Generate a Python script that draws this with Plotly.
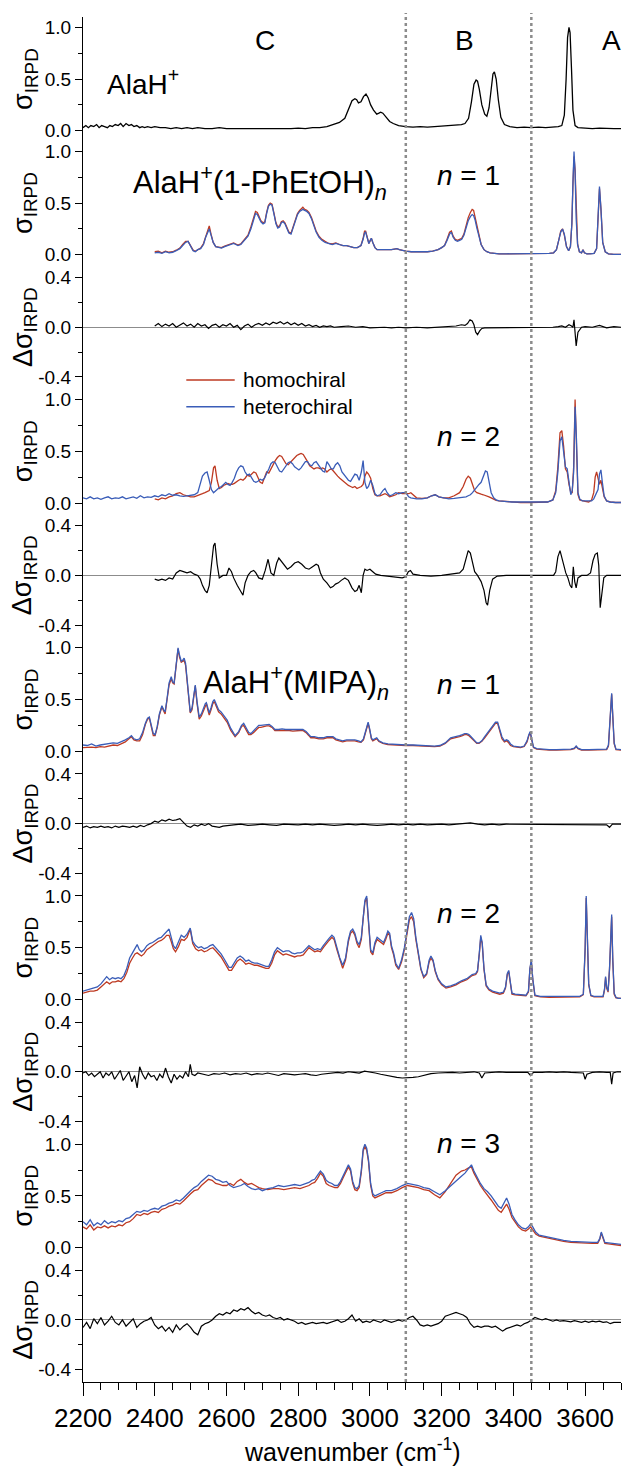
import plotly.graph_objects as go
from plotly.subplots import make_subplots

RED = "#BE3A22"
BLUE = "#3A5DB8"
FONT = "Liberation Sans, Arial, sans-serif"

# ---------------- AlaH+ (bare) ----------------
ala_x = [2200, 2208, 2215, 2222, 2230, 2238, 2245, 2252, 2260, 2268,
         2275, 2282, 2290, 2298, 2305, 2312, 2320, 2328, 2335, 2342,
         2350, 2358, 2365, 2372, 2380, 2390, 2400, 2415, 2430, 2445,
         2460, 2475, 2490, 2505, 2520, 2540, 2560, 2580, 2600, 2620,
         2640, 2660, 2680, 2700, 2720, 2740, 2760, 2780, 2800, 2820,
         2840, 2860, 2880, 2900, 2915, 2930, 2940, 2950, 2958, 2963,
         2968, 2975, 2982, 2989, 2995, 3002, 3010, 3019, 3025, 3030,
         3036, 3045, 3055, 3065, 3080, 3100, 3120, 3140, 3160, 3180,
         3200, 3220, 3240, 3255, 3265, 3275, 3283, 3290, 3296, 3300,
         3305, 3312, 3320, 3326, 3332, 3338, 3343, 3347, 3352, 3358,
         3365, 3375, 3390, 3410, 3430, 3450, 3470, 3490, 3510, 3525,
         3535, 3542, 3547, 3551, 3555, 3558, 3562, 3566, 3572, 3580,
         3600, 3620, 3640, 3660, 3680, 3700]
ala_y = [.03, .05, .03, .05, .04, .06, .03, .05, .04, .03,
         .05, .04, .06, .05, .07, .04, .07, .05, .06, .04,
         .05, .03, .04, .03, .04, .03, .04, .03, .03, .02,
         .03, .02, .03, .02, .03, .02, .02, .03, .02, .02,
         .015, .02, .015, .02, .02, .015, .02, .02, .025, .02,
         .03, .03, .04, .06, .08, .12, .20, .29, .31, .30,
         .27, .28, .33, .355, .32, .25, .20, .16, .17, .18,
         .17, .13, .09, .07, .05, .04, .035, .04, .035, .04,
         .045, .05, .05, .06, .07, .12, .28, .45, .49, .48,
         .40, .25, .16, .14, .22, .42, .55, .57, .50, .30,
         .13, .06, .04, .03, .035, .03, .035, .03, .035, .04,
         .05, .15, .50, .90, 1.0, .95, .60, .20, .05, .03,
         .025, .02, .025, .02, .02, .02]

# ---------------- AlaH+(1-PhEtOH), n = 1 ----------------
phe1_x = [2400, 2410, 2420, 2430, 2440, 2450, 2460, 2470, 2478, 2486,
          2493, 2500, 2507, 2513, 2520, 2528, 2536, 2542, 2547, 2552,
          2557, 2563, 2570, 2578, 2586, 2595, 2604, 2612, 2620, 2626,
          2632, 2640, 2650, 2660, 2668, 2675, 2681, 2686, 2691, 2696,
          2702, 2707, 2712, 2717, 2722, 2727, 2732, 2738, 2743, 2748,
          2753, 2758, 2763, 2768, 2774, 2780, 2786, 2792, 2798, 2804,
          2809, 2813, 2818, 2824, 2830, 2837, 2843, 2850, 2858, 2866,
          2875, 2885, 2895, 2905, 2915, 2925, 2935, 2945, 2955, 2965,
          2975, 2981, 2985, 2988, 2992, 2997, 3001, 3004, 3008, 3014,
          3020, 3030, 3040, 3050, 3060, 3068, 3075, 3082, 3090, 3100,
          3115, 3130, 3145, 3160, 3175, 3190, 3200, 3208, 3215, 3222,
          3227, 3232, 3238, 3244, 3250, 3256, 3262, 3268, 3274, 3280,
          3285, 3289, 3293, 3298, 3303, 3310, 3318, 3326, 3335, 3345,
          3360, 3380, 3400, 3420, 3440, 3460, 3480, 3500, 3512, 3520,
          3527, 3532, 3537, 3542, 3548, 3554, 3559, 3563, 3566, 3569,
          3572, 3575, 3579, 3584, 3590, 3594, 3598, 3605, 3615, 3625,
          3632, 3636, 3640, 3644, 3649, 3656, 3665, 3680, 3700]
phe1_blue = [.02, .025, .015, .03, .02, .025, .04, .06, .09, .12,
             .13, .08, .04, .03, .05, .06, .10, .17, .22, .25,
             .19, .12, .08, .07, .065, .08, .09, .10, .11, .10,
             .09, .10, .14, .18, .25, .34, .40, .39, .36, .32,
             .30, .31, .40, .47, .49, .48, .40, .30, .26, .27,
             .31, .32, .30, .25, .21, .20, .26, .34, .39, .42,
             .43, .44, .43, .42, .40, .35, .29, .22, .17, .14,
             .12, .11, .10, .11, .10, .09, .09, .08, .07, .07,
             .09, .15, .21, .22, .17, .11, .14, .16, .12, .07,
             .05, .05, .045, .05, .05, .055, .06, .05, .04, .035,
             .03, .03, .025, .03, .035, .05, .07, .09, .14, .20,
             .22, .17, .14, .13, .14, .15, .19, .26, .33, .37,
             .39, .38, .34, .26, .19, .10, .05, .03, .02, .015,
             .01, .01, .01, .01, .01, .01, .01, .015, .02, .05,
             .15, .22, .25, .20, .08, .04, .08, .30, .70, 1.0,
             .80, .35, .10, .03, .02, .05, .02, .01, .01, .015,
             .06, .30, .66, .45, .12, .03, .01, .005, .005]
phe1_red = [.03, .035, .02, .035, .025, .03, .045, .065, .10, .13,
            .13, .08, .045, .035, .05, .065, .11, .18, .24, .28,
            .20, .12, .08, .075, .07, .085, .095, .105, .115, .105,
            .095, .105, .15, .19, .27, .36, .42, .41, .37, .33,
            .31, .32, .41, .48, .50, .49, .41, .31, .27, .28,
            .32, .33, .31, .26, .22, .21, .27, .35, .40, .43,
            .45, .46, .44, .43, .41, .36, .30, .23, .18, .15,
            .13, .11, .105, .115, .10, .09, .09, .08, .07, .07,
            .09, .16, .23, .23, .17, .11, .14, .16, .12, .07,
            .05, .05, .045, .05, .05, .055, .06, .05, .04, .035,
            .03, .03, .025, .03, .035, .05, .07, .09, .15, .22,
            .23, .18, .15, .14, .15, .16, .20, .28, .36, .41,
            .44, .43, .37, .27, .19, .10, .05, .03, .02, .015,
            .01, .01, .01, .01, .01, .01, .01, .015, .02, .05,
            .15, .23, .25, .19, .08, .04, .08, .30, .68, .95,
            .82, .38, .10, .03, .02, .05, .02, .01, .01, .015,
            .06, .30, .64, .45, .12, .03, .01, .005, .005]

dphe1_x = [2400, 2410, 2420, 2430, 2440, 2450, 2460, 2470, 2480, 2490,
           2500, 2510, 2520, 2530, 2540, 2550, 2560, 2570, 2580, 2590,
           2600, 2610, 2620, 2630, 2640, 2650, 2660, 2670, 2680, 2690,
           2700, 2710, 2720, 2730, 2740, 2750, 2760, 2770, 2780, 2790,
           2800, 2810, 2820, 2830, 2840, 2850, 2860, 2870, 2880, 2890,
           2900, 2920, 2940, 2960, 2980, 3000, 3020, 3040, 3060, 3080,
           3100, 3130, 3160, 3190, 3220, 3240, 3255, 3265, 3272, 3279,
           3285, 3290, 3295, 3300, 3306, 3312, 3320, 3335, 3360, 3400,
           3440, 3480, 3510, 3525, 3535, 3545, 3555, 3562, 3566, 3569,
           3572, 3575, 3580, 3590, 3600, 3620, 3640, 3660, 3680, 3700]
dphe1_y = [.01, .03, .005, .025, .01, .03, .0, .02, .035, .01,
           .025, .0, .03, .01, .02, -.01, .015, .025, .0, .02,
           .01, .03, .0, .015, -.02, .01, .025, .0, .02, .03,
           .015, .035, .02, .04, .03, .045, .025, .04, .02, .035,
           .015, .03, .01, .02, .005, .015, .0, .01, .005, .01,
           .0, .005, .01, .0, .005, -.005, .0, .0, -.005, .0,
           -.005, .0, -.005, .0, .005, .01, .02, .015, .03, .06,
           .05, .02, -.04, -.06, -.03, -.01, -.005, -.005, .0, .0,
           -.005, .0, .0, .005, .01, .0, .02, .01, .0, .06,
           -.05, -.15, -.04, .0, .005, .0, .015, -.005, .005, .0]

# ---------------- AlaH+(1-PhEtOH), n = 2 ----------------
phe2_x = [2200, 2210, 2220, 2230, 2240, 2250, 2260, 2270, 2280, 2290,
          2300, 2310, 2320, 2330, 2340, 2350, 2360, 2370, 2380, 2390,
          2400, 2410, 2420, 2430, 2440, 2450, 2460, 2470, 2480, 2490,
          2500, 2510, 2520, 2527, 2533, 2540, 2546, 2552, 2558, 2564,
          2568, 2574, 2580, 2586, 2592, 2598, 2604, 2610, 2616, 2622,
          2628, 2634, 2640, 2646, 2652, 2658, 2664, 2670, 2676, 2682,
          2688, 2694, 2700, 2706, 2712, 2718, 2724, 2730, 2736, 2742,
          2748, 2754, 2760, 2766, 2772, 2778, 2784, 2790, 2796, 2802,
          2808, 2814, 2820, 2826, 2832, 2838, 2844, 2850, 2856, 2862,
          2868, 2874, 2880, 2886, 2892, 2898, 2904, 2910, 2916, 2922,
          2928, 2934, 2940, 2946, 2952, 2958, 2964, 2970, 2976, 2981,
          2986, 2991, 2996, 3002, 3008, 3014, 3020, 3028, 3036, 3042,
          3048, 3055, 3063, 3072, 3080, 3090, 3100, 3108, 3114, 3120,
          3130, 3145, 3160, 3172, 3182, 3192, 3205, 3220, 3235, 3250,
          3260, 3268, 3274, 3280, 3286, 3292, 3298, 3304, 3310, 3316,
          3322, 3327, 3332, 3338, 3345, 3352, 3360, 3375, 3395, 3420,
          3445, 3470, 3495, 3510, 3518, 3524, 3530, 3535, 3540, 3545,
          3550, 3555, 3560, 3564, 3568, 3572, 3576, 3580, 3585, 3592,
          3600, 3610, 3618, 3624, 3628, 3632, 3636, 3640, 3644, 3648,
          3653, 3660, 3670, 3685, 3700]
phe2_blue = [.05, .04, .06, .04, .05, .035, .05, .06, .04, .05,
             .045, .06, .04, .05, .06, .045, .07, .05, .06, .055,
             .07, .06, .08, .07, .09, .075, .08, .07, .065, .07,
             .075, .08, .10, .18, .26, .29, .30, .22, .13, .10,
             .11, .13, .15, .16, .18, .20, .18, .17, .20, .24,
             .30, .34, .36, .35, .30, .27, .28, .24, .21, .20,
             .21, .23, .22, .24, .28, .33, .38, .40, .39, .35,
             .31, .30, .33, .37, .39, .40, .38, .35, .33, .32,
             .34, .37, .40, .40, .37, .36, .39, .40, .37, .33,
             .31, .30, .40, .37, .33, .33, .37, .39, .36, .30,
             .27, .24, .22, .21, .24, .28, .27, .22, .30, .41,
             .20, .14, .16, .22, .17, .09, .07, .08, .12, .14,
             .10, .07, .08, .10, .09, .10, .10, .06, .05, .045,
             .04, .04, .05, .07, .08, .06, .05, .04, .045, .05,
             .05, .06, .07, .08, .10, .13, .16, .18, .20, .26,
             .31, .30, .20, .10, .05, .03, .02, .015, .01, .01,
             .01, .005, .01, .03, .10, .30, .60, .64, .48, .35,
             .33, .20, .08, .12, .30, .93, .60, .10, .04, .02,
             .02, .015, .02, .04, .07, .10, .13, .28, .32, .20,
             .07, .02, .01, .005, .005]
phe2_red = [None, None, None, None, None, None, None, None, None, None,
            None, None, None, None, None, None, None, None, None, None,
            .04, .03, .05, .04, .06, .07, .09, .10, .08, .07,
            .06, .06, .07, .08, .09, .10, .11, .12, .20, .34,
            .36, .22, .14, .15, .17, .18, .19, .18, .18, .19,
            .21, .22, .23, .22, .24, .27, .26, .28, .30, .29,
            .24, .20, .19, .24, .30, .29, .33, .38, .41, .44,
            .46, .45, .41, .38, .37, .39, .42, .44, .46, .47,
            .48, .47, .44, .40, .36, .34, .33, .34, .34, .33,
            .34, .33, .30, .32, .33, .31, .28, .26, .24, .22,
            .21, .19, .17, .16, .15, .16, .14, .15, .16, .18,
            .26, .30, .28, .24, .14, .08, .07, .07, .08, .09,
            .08, .06, .07, .08, .10, .09, .09, .09, .10, .08,
            .05, .045, .05, .07, .08, .06, .05, .05, .07, .10,
            .16, .23, .26, .24, .17, .12, .10, .09, .085, .08,
            .075, .07, .06, .05, .035, .025, .02, .015, .01, .005,
            .005, .005, .01, .03, .12, .35, .68, .70, .55, .33,
            .30, .18, .10, .10, .35, 1.0, .55, .08, .03, .02,
            .015, .01, .03, .10, .25, .30, .22, .18, .22, .15,
            .06, .02, .01, .005, .005]

dphe2_x = [2400, 2410, 2420, 2430, 2440, 2450, 2460, 2470, 2480, 2490,
           2500, 2510, 2520, 2527, 2533, 2540, 2546, 2552, 2558, 2564,
           2568, 2574, 2580, 2590, 2600, 2607, 2614, 2620, 2630, 2640,
           2646, 2652, 2660, 2668, 2676, 2682, 2690, 2700, 2708, 2716,
           2724, 2732, 2740, 2746, 2754, 2762, 2770, 2780, 2790, 2800,
           2810, 2820, 2830, 2840, 2850, 2856, 2862, 2870, 2880, 2890,
           2897, 2904, 2912, 2920, 2930, 2940, 2950, 2958, 2964, 2970,
           2976, 2981, 2986, 2992, 3000, 3008, 3016, 3030, 3050, 3070,
           3090, 3100, 3107, 3113, 3120, 3140, 3170, 3200, 3230, 3250,
           3260, 3268, 3274, 3280, 3286, 3292, 3300, 3310, 3318, 3324,
           3328, 3334, 3342, 3355, 3380, 3420, 3460, 3500, 3512, 3518,
           3524, 3530, 3538, 3546, 3552, 3558, 3563, 3567, 3571, 3575,
           3580, 3590, 3605, 3615, 3622, 3628, 3634, 3638, 3642, 3646,
           3652, 3660, 3680, 3700]
dphe2_y = [-.03, -.04, -.03, -.04, -.02, -.03, .02, .04, .03, .02,
           .03, .01, .0, -.03, -.08, -.12, -.14, -.08, .08, .24,
           .26, .09, -.02, .0, .0, .06, .03, -.02, -.08, -.13,
           -.16, -.06, .0, .03, .04, .02, -.02, -.03, .04, .13,
           .02, .0, .10, .14, .11, .08, .05, .07, .10, .11,
           .09, .06, .05, .07, .09, .08, .02, -.03, -.06, -.10,
           -.09, -.07, -.06, -.04, -.02, -.04, -.10, -.13, -.12, -.08,
           -.14, .0, .05, .04, .05, .03, .01, .0, -.005, -.01,
           -.02, -.01, .03, .04, .01, .0, -.005, .0, .01, .02,
           .05, .15, .20, .18, .10, .03, .0, -.05, -.12, -.22,
           -.24, -.12, -.03, -.005, .0, .0, .0, .0, .0, .03,
           .15, .20, .10, .02, -.02, -.08, -.10, .07, -.05, -.10,
           -.02, .0, .0, .02, .12, .17, .18, .08, -.26, -.15,
           -.02, .0, .0, .0]

# ---------------- AlaH+(MIPA), n = 1 ----------------
mipa1_x = [2200, 2212, 2224, 2236, 2248, 2260, 2272, 2284, 2296, 2308,
           2318, 2328, 2335, 2342, 2350, 2358, 2366, 2374, 2380, 2385,
           2390, 2396, 2401, 2407, 2413, 2420, 2425, 2429, 2434, 2440,
           2446, 2450, 2454, 2458, 2462, 2465, 2469, 2474, 2478, 2482,
           2486, 2490, 2495, 2499, 2504, 2509, 2513, 2518, 2524, 2530,
           2536, 2541, 2544, 2548, 2552, 2557, 2562, 2566, 2571, 2578,
           2585, 2593, 2602, 2612, 2624, 2634, 2642, 2648, 2655, 2662,
           2668, 2676, 2684, 2690, 2696, 2704, 2712, 2719, 2727, 2735,
           2745, 2755, 2765, 2775, 2785, 2795, 2805, 2813, 2822, 2830,
           2835, 2845, 2858, 2870, 2880, 2890, 2897, 2905, 2915, 2924,
           2935, 2945, 2958, 2968, 2975, 2982, 2988, 2992, 2995, 2999,
           3004, 3008, 3013, 3019, 3025, 3036, 3050, 3065, 3080, 3100,
           3120, 3140, 3160, 3180, 3195, 3210, 3225, 3240, 3250, 3258,
           3264, 3270, 3276, 3282, 3290, 3298, 3304, 3312, 3320, 3328,
           3336, 3344, 3350, 3356, 3362, 3368, 3375, 3381, 3386, 3392,
           3400, 3410, 3420, 3430, 3438, 3443, 3447, 3451, 3456, 3465,
           3480, 3500, 3520, 3540, 3560, 3570, 3575, 3580, 3590, 3610,
           3630, 3650, 3660, 3665, 3668, 3671, 3674, 3677, 3681, 3686,
           3692, 3700]
mipa1_blue = [.06, .055, .07, .05, .06, .065, .07, .08, .075, .09,
              .11, .13, .15, .12, .11, .12, .18, .27, .32, .33,
              .26, .17, .16, .24, .36, .44, .40, .38, .50, .66,
              .72, .67, .66, .80, .95, 1.0, .93, .87, .88, .90,
              .85, .72, .52, .38, .42, .56, .64, .48, .33, .36,
              .42, .46, .47, .42, .37, .42, .48, .50, .46, .40,
              .38, .34, .30, .22, .15, .19, .25, .27, .22, .18,
              .17, .20, .23, .25, .25, .255, .26, .26, .24, .21,
              .21, .215, .21, .21, .205, .21, .21, .21, .19, .16,
              .14, .14, .13, .13, .14, .14, .14, .12, .11, .10,
              .11, .11, .11, .10, .09, .12, .20, .26, .28, .22,
              .13, .11, .12, .13, .10, .08, .07, .065, .06, .06,
              .06, .055, .05, .05, .055, .08, .13, .14, .15, .16,
              .17, .17, .16, .14, .11, .08, .08, .10, .14, .18,
              .22, .26, .28, .28, .22, .14, .10, .11, .10, .07,
              .05, .045, .04, .05, .10, .16, .19, .12, .04, .025,
              .02, .015, .015, .015, .02, .03, .05, .03, .015, .015,
              .015, .015, .02, .06, .25, .50, .56, .35, .08, .02,
              .015, .015]
mipa1_red = [.035, .04, .04, .035, .045, .04, .05, .06, .055, .07,
             .09, .12, .14, .11, .10, .10, .16, .26, .31, .32,
             .24, .15, .15, .23, .35, .43, .39, .36, .49, .64,
             .70, .66, .65, .79, .94, .99, .91, .86, .87, .88,
             .83, .70, .50, .37, .40, .55, .63, .46, .31, .34,
             .40, .44, .46, .40, .35, .40, .46, .48, .44, .38,
             .36, .32, .28, .20, .14, .18, .24, .25, .20, .16,
             .16, .18, .21, .23, .23, .24, .245, .245, .23, .20,
             .20, .205, .20, .20, .195, .20, .20, .20, .18, .15,
             .13, .13, .12, .12, .13, .13, .13, .11, .10, .09,
             .10, .10, .10, .09, .085, .11, .19, .25, .27, .21,
             .12, .10, .11, .12, .095, .075, .065, .06, .055, .055,
             .055, .05, .045, .045, .05, .075, .12, .13, .14, .15,
             .16, .16, .15, .13, .10, .075, .075, .095, .13, .17,
             .21, .25, .27, .27, .19, .12, .09, .10, .085, .055,
             .045, .04, .035, .045, .09, .15, .18, .11, .035, .02,
             .015, .01, .01, .01, .015, .025, .045, .025, .01, .01,
             .01, .01, .015, .05, .24, .49, .55, .34, .07, .015,
             .01, .01]

dmipa1_x = [2200, 2210, 2220, 2230, 2240, 2250, 2260, 2270, 2280, 2290,
            2300, 2310, 2320, 2330, 2340, 2350, 2360, 2370, 2380, 2390,
            2400, 2410, 2420, 2430, 2440, 2450, 2460, 2470, 2480, 2490,
            2500, 2510, 2520, 2530, 2540, 2550, 2560, 2570, 2580, 2590,
            2600, 2620, 2640, 2660, 2680, 2700, 2720, 2740, 2760, 2780,
            2800, 2820, 2840, 2860, 2880, 2900, 2920, 2940, 2960, 2980,
            3000, 3020, 3040, 3060, 3080, 3100, 3120, 3140, 3160, 3180,
            3200, 3220, 3240, 3260, 3280, 3300, 3320, 3340, 3360, 3380,
            3400, 3420, 3440, 3460, 3480, 3500, 3520, 3540, 3560, 3580,
            3600, 3620, 3640, 3660, 3668, 3672, 3676, 3685, 3700]
dmipa1_y = [-.03, -.02, -.035, -.025, -.03, -.02, -.03, -.025, -.035, -.02,
            -.03, -.02, -.025, -.03, -.02, -.03, -.015, -.025, -.01, .0,
            .02, .01, .03, .02, .035, .025, .03, .04, .01, -.02,
            -.03, -.01, -.02, -.005, -.015, .0, -.02, -.025, -.03, -.02,
            -.015, -.01, -.005, -.015, -.01, -.005, -.01, -.015, -.005, -.01,
            -.01, -.005, -.01, -.005, -.01, -.015, -.01, -.005, -.01, -.005,
            -.01, -.015, -.01, -.005, -.01, -.005, -.01, -.005, -.01, -.005,
            -.005, -.01, -.005, -.005, .005, -.005, -.01, -.005, -.01, -.005,
            -.005, -.01, -.005, -.005, -.01, -.005, -.005, -.005, -.01, -.005,
            -.005, -.005, -.01, -.01, -.03, -.02, -.005, -.005, -.005]

# ---------------- AlaH+(MIPA), n = 2 ----------------
mipa2_x = [2200, 2210, 2220, 2230, 2240, 2250, 2258, 2266, 2274, 2282,
           2290, 2298, 2306, 2314, 2322, 2330, 2338, 2345, 2351, 2357,
           2363, 2370, 2378, 2386, 2394, 2402, 2410, 2418, 2426, 2433,
           2440, 2446, 2452, 2458, 2466, 2474, 2482, 2490, 2499, 2506,
           2514, 2522, 2530, 2538, 2546, 2554, 2562, 2570, 2578, 2585,
           2592, 2600, 2607, 2614, 2622, 2630, 2638, 2646, 2654, 2662,
           2670, 2678, 2686, 2694, 2702, 2710, 2718, 2726, 2734, 2742,
           2750, 2758, 2766, 2774, 2782, 2790, 2798, 2806, 2814, 2822,
           2830, 2838, 2846, 2854, 2862, 2870, 2878, 2886, 2894, 2900,
           2908, 2916, 2924, 2932, 2940, 2946, 2952, 2958, 2964, 2970,
           2976, 2981, 2986, 2991, 2996, 3002, 3008, 3014, 3020, 3026,
           3032, 3038, 3044, 3050, 3055, 3060, 3066, 3072, 3080, 3088,
           3096, 3104, 3110, 3116, 3122, 3128, 3135, 3142, 3150, 3158,
           3165, 3170, 3176, 3182, 3190, 3200, 3212, 3225, 3240, 3255,
           3270, 3285, 3295, 3300, 3305, 3309, 3313, 3318, 3324, 3332,
           3342, 3352, 3362, 3372, 3378, 3383, 3387, 3391, 3396, 3405,
           3420, 3435, 3442, 3446, 3450, 3454, 3460, 3475, 3500, 3530,
           3560, 3585, 3595, 3600, 3603, 3606, 3610, 3616, 3625, 3640,
           3650, 3654, 3657, 3660, 3664, 3668, 3671, 3674, 3677, 3681,
           3686, 3692, 3700]
mipa2_blue = [.08, .09, .10, .11, .12, .15, .19, .22, .19, .21,
              .20, .21, .20, .23, .30, .40, .45, .50, .53, .48,
              .46, .48, .52, .54, .55, .57, .59, .60, .63, .66,
              .68, .60, .52, .49, .55, .62, .60, .63, .69, .56,
              .52, .50, .51, .49, .50, .52, .53, .50, .47, .44,
              .40, .35, .31, .31, .36, .40, .42, .40, .37, .38,
              .36, .35, .35, .34, .33, .32, .32, .38, .46, .50,
              .48, .46, .47, .47, .45, .44, .45, .45, .46, .49,
              .52, .50, .48, .49, .48, .52, .56, .59, .62, .60,
              .50, .40, .33, .40, .58, .66, .68, .64, .56, .53,
              .60, .80, .96, 1.0, .80, .48, .45, .55, .60, .58,
              .56, .55, .60, .66, .64, .52, .45, .35, .30, .38,
              .50, .68, .80, .84, .78, .60, .45, .30, .22, .25,
              .38, .42, .38, .28, .20, .15, .12, .13, .15, .18,
              .20, .24, .25, .28, .45, .62, .55, .30, .14, .10,
              .08, .07, .06, .07, .12, .25, .28, .18, .06, .05,
              .045, .04, .08, .30, .38, .20, .04, .03, .03, .03,
              .025, .03, .05, .50, 1.0, .70, .15, .04, .03, .03,
              .03, .10, .22, .12, .08, .30, .70, .82, .40, .06,
              .02, .01, .01]
mipa2_red = [.06, .07, .08, .08, .09, .12, .15, .17, .15, .17,
             .17, .18, .17, .20, .26, .35, .40, .44, .45, .43,
             .42, .44, .48, .50, .52, .54, .56, .57, .59, .62,
             .62, .56, .49, .46, .51, .58, .57, .60, .68, .54,
             .49, .47, .48, .46, .47, .49, .50, .47, .44, .41,
             .37, .32, .28, .28, .33, .37, .39, .37, .34, .35,
             .34, .33, .33, .32, .31, .30, .30, .35, .43, .47,
             .45, .43, .44, .43, .42, .41, .42, .42, .43, .47,
             .50, .48, .46, .47, .46, .50, .54, .57, .60, .58,
             .48, .38, .30, .38, .56, .64, .66, .62, .54, .50,
             .58, .78, .94, .98, .78, .46, .43, .53, .58, .56,
             .54, .53, .58, .64, .62, .50, .43, .33, .29, .36,
             .48, .65, .77, .80, .75, .58, .43, .29, .21, .24,
             .36, .40, .37, .27, .19, .14, .11, .12, .14, .17,
             .19, .23, .24, .27, .44, .60, .54, .29, .13, .09,
             .07, .06, .05, .06, .11, .24, .27, .17, .05, .045,
             .04, .035, .07, .29, .37, .19, .035, .025, .02, .02,
             .02, .025, .045, .48, .98, .68, .14, .035, .025, .025,
             .025, .09, .21, .11, .07, .29, .68, .80, .38, .05,
             .015, .01, .01]

dmipa2_x = [2200, 2208, 2216, 2224, 2232, 2240, 2248, 2256, 2264, 2272,
            2280, 2288, 2296, 2304, 2312, 2320, 2328, 2336, 2344, 2351,
            2358, 2366, 2374, 2382, 2390, 2398, 2406, 2414, 2422, 2430,
            2438, 2446, 2454, 2462, 2470, 2478, 2486, 2494, 2499, 2504,
            2512, 2520, 2535, 2550, 2565, 2580, 2595, 2610, 2625, 2640,
            2655, 2670, 2685, 2700, 2715, 2730, 2745, 2760, 2775, 2790,
            2805, 2820, 2835, 2850, 2865, 2880, 2895, 2910, 2925, 2940,
            2955, 2970, 2985, 3000, 3015, 3030, 3045, 3060, 3075, 3090,
            3105, 3120, 3135, 3150, 3170, 3190, 3210, 3230, 3250, 3270,
            3290, 3305, 3312, 3320, 3340, 3360, 3380, 3400, 3420, 3440,
            3448, 3456, 3480, 3500, 3520, 3540, 3560, 3580, 3595, 3600,
            3605, 3620, 3640, 3660, 3670, 3674, 3678, 3690, 3700]
dmipa2_y = [-.01, .0, -.03, -.01, -.04, -.02, .0, -.05, -.01, -.03,
            .0, -.06, -.02, .01, -.07, -.03, .0, -.08, -.03, -.13,
            .04, -.02, -.06, -.01, -.04, -.03, -.07, -.02, -.05, .03,
            -.04, -.09, -.02, -.06, -.03, -.05, .0, -.04, .06, -.02,
            -.03, -.01, -.02, -.03, -.015, -.02, -.01, -.025, -.015, -.02,
            -.01, -.025, -.015, -.02, -.01, -.02, -.03, -.015, -.02, -.025,
            -.02, -.015, -.025, -.03, -.02, -.015, -.01, -.005, -.01, .0,
            -.005, -.01, .005, .0, -.01, -.02, -.03, -.04, -.045, -.05,
            -.05, -.045, -.04, -.03, -.015, -.01, -.005, -.005, -.01, -.005,
            .0, -.01, -.05, -.01, -.005, .0, -.005, -.005, -.01, -.005,
            -.03, -.005, -.005, .0, -.005, .0, -.005, -.005, -.01, -.06,
            -.02, -.005, .0, -.005, -.005, -.10, -.01, .0, .0]

# ---------------- AlaH+(MIPA), n = 3 ----------------
mipa3_x = [2200, 2210, 2220, 2230, 2240, 2250, 2260, 2270, 2280, 2290,
           2300, 2310, 2320, 2330, 2340, 2350, 2360, 2370, 2380, 2390,
           2400, 2410, 2420, 2430, 2440, 2450, 2460, 2470, 2480, 2490,
           2500, 2510, 2520, 2530, 2540, 2550, 2560, 2570, 2580, 2590,
           2600, 2610, 2620, 2630, 2640, 2650, 2660, 2670, 2680, 2690,
           2700, 2715, 2730, 2745, 2760, 2775, 2790, 2805, 2820, 2830,
           2838, 2846, 2854, 2862, 2870, 2878, 2886, 2894, 2902, 2910,
           2918, 2926, 2934, 2940, 2946, 2952, 2958, 2964, 2970, 2976,
           2981, 2986, 2991, 2996, 3002, 3008, 3014, 3022, 3032, 3045,
           3060, 3075, 3090, 3105, 3120, 3135, 3150, 3165, 3180, 3195,
           3210, 3225, 3240, 3255, 3265, 3275, 3283, 3290, 3298, 3308,
           3318, 3328, 3338, 3348, 3358, 3366, 3374, 3381, 3388, 3396,
           3404, 3414, 3424, 3434, 3442, 3448, 3454, 3462, 3472, 3485,
           3500, 3520, 3540, 3560, 3580, 3600, 3620, 3635, 3641, 3645,
           3649, 3655, 3665, 3680, 3700]
mipa3_blue = [.25, .22, .27, .21, .24, .22, .26, .23, .25, .24,
              .26, .25, .28, .29, .32, .35, .34, .36, .35, .37,
              .38, .37, .40, .41, .43, .44, .46, .45, .48, .52,
              .55, .58, .60, .64, .67, .70, .69, .66, .65, .63,
              .64, .60, .58, .59, .60, .62, .59, .57, .56, .57,
              .55, .57, .58, .60, .59, .60, .61, .60, .62, .63,
              .65, .66, .70, .74, .71, .65, .63, .62, .60, .60,
              .64, .70, .76, .80, .76, .64, .58, .57, .60, .75,
              .95, 1.0, .96, .85, .62, .52, .50, .51, .53, .55,
              .55, .57, .60, .62, .61, .60, .58, .57, .54, .51,
              .55, .60, .65, .69, .72, .76, .80, .74, .68, .62,
              .57, .54, .50, .45, .40, .38, .44, .48, .42, .32,
              .27, .22, .19, .18, .20, .23, .20, .15, .12, .11,
              .10, .08, .07, .06, .055, .05, .05, .05, .09, .15,
              .10, .05, .045, .04, .03]
mipa3_red = [.20, .18, .22, .17, .20, .19, .21, .19, .21, .20,
             .22, .21, .24, .25, .28, .32, .31, .33, .32, .34,
             .35, .34, .37, .38, .40, .41, .43, .42, .45, .49,
             .52, .55, .56, .60, .63, .66, .65, .62, .61, .60,
             .60, .62, .60, .64, .66, .63, .61, .62, .60, .58,
             .57, .56, .57, .57, .56, .57, .58, .57, .59, .60,
             .62, .63, .67, .72, .69, .62, .60, .59, .58, .58,
             .62, .68, .74, .78, .74, .62, .56, .55, .58, .73,
             .93, .98, .94, .83, .60, .50, .48, .49, .51, .53,
             .53, .55, .58, .60, .59, .58, .56, .55, .51, .48,
             .54, .62, .70, .74, .75, .77, .78, .72, .66, .60,
             .55, .51, .46, .41, .36, .34, .39, .42, .37, .29,
             .25, .20, .17, .16, .18, .20, .17, .13, .11, .10,
             .09, .07, .06, .05, .045, .04, .04, .04, .08, .14,
             .09, .04, .035, .03, .02]

dmipa3_x = [2200, 2210, 2220, 2230, 2240, 2250, 2260, 2270, 2280, 2290,
            2300, 2310, 2320, 2330, 2340, 2350, 2360, 2370, 2380, 2390,
            2400, 2410, 2420, 2430, 2440, 2450, 2460, 2470, 2480, 2490,
            2500, 2510, 2520, 2530, 2540, 2550, 2560, 2570, 2580, 2590,
            2600, 2610, 2620, 2630, 2640, 2650, 2660, 2670, 2680, 2690,
            2700, 2710, 2720, 2730, 2740, 2750, 2760, 2770, 2780, 2790,
            2800, 2810, 2820, 2830, 2840, 2850, 2860, 2870, 2880, 2890,
            2900, 2910, 2920, 2930, 2940, 2950, 2960, 2970, 2980, 2990,
            3000, 3010, 3020, 3030, 3040, 3050, 3060, 3070, 3080, 3090,
            3100, 3110, 3120, 3130, 3140, 3150, 3160, 3170, 3180, 3190,
            3200, 3210, 3220, 3230, 3240, 3250, 3260, 3270, 3280, 3290,
            3300, 3310, 3320, 3330, 3340, 3350, 3360, 3370, 3380, 3390,
            3400, 3410, 3420, 3430, 3440, 3450, 3460, 3470, 3480, 3490,
            3500, 3510, 3520, 3530, 3540, 3550, 3560, 3570, 3580, 3590,
            3600, 3610, 3620, 3630, 3640, 3650, 3660, 3670, 3680, 3690,
            3700]
dmipa3_y = [-.06, -.02, -.07, .01, -.03, .02, -.04, -.01, .03, -.02,
            -.04, .0, -.05, -.02, .01, -.06, -.03, -.01, .0, .02,
            -.04, -.07, -.05, -.09, -.06, -.10, -.04, -.08, -.05, -.03,
            -.06, -.10, -.12, -.05, -.03, -.02, .0, .03, .05, .04,
            .06, .05, .08, .07, .09, .08, .10, .07, .05, .06,
            .04, .03, .04, .02, .01, .02, .0, .01, .0, -.01,
            -.03, -.02, -.035, -.03, -.02, -.03, -.025, -.02, -.03, -.02,
            -.01, .0, -.02, -.01, .01, .04, -.01, .01, -.02, -.01,
            -.02, .0, -.01, -.02, .0, -.01, -.02, -.01, .0, -.01,
            .0, .02, .03, .0, -.04, -.05, -.04, -.05, -.04, -.03,
            -.01, .03, .04, .05, .06, .05, .04, .02, -.03, -.06,
            -.05, -.06, -.05, -.05, -.06, -.05, -.07, -.09, -.07, -.06,
            -.05, -.04, -.05, -.03, -.02, .0, .02, .01, .0, .01,
            .0, -.01, .0, -.01, -.005, -.01, -.015, -.005, -.01, -.02,
            -.01, -.02, -.01, -.015, -.01, -.02, -.015, -.03, -.02, -.02,
            -.02]

x_ticks = [2200, 2400, 2600, 2800, 3000, 3200, 3400, 3600]
region_lines = [3100, 3450]

# ---------------- figure ----------------
fig = make_subplots(rows=11, cols=1, shared_xaxes=True, vertical_spacing=0)


def add_line(x, y, color, row, width=1.3):
    assert len(x) == len(y), (row, len(x), len(y))
    fig.add_trace(go.Scatter(x=x, y=y, mode="lines", showlegend=False,
                             line=dict(color=color, width=width)),
                  row=row, col=1)


add_line(ala_x, ala_y, "black", 1)
add_line(phe1_x, phe1_red, RED, 2)
add_line(phe1_x, phe1_blue, BLUE, 2)
add_line(dphe1_x, dphe1_y, "black", 3, 1.2)
add_line(phe2_x, phe2_red, RED, 4)
add_line(phe2_x, phe2_blue, BLUE, 4)
add_line(dphe2_x, dphe2_y, "black", 5, 1.2)
add_line(mipa1_x, mipa1_red, RED, 6)
add_line(mipa1_x, mipa1_blue, BLUE, 6)
add_line(dmipa1_x, dmipa1_y, "black", 7, 1.2)
add_line(mipa2_x, mipa2_red, RED, 8)
add_line(mipa2_x, mipa2_blue, BLUE, 8)
add_line(dmipa2_x, dmipa2_y, "black", 9, 1.2)
add_line(mipa3_x, mipa3_red, RED, 10)
add_line(mipa3_x, mipa3_blue, BLUE, 10)
add_line(dmipa3_x, dmipa3_y, "black", 11, 1.2)

sigma_rows = [1, 2, 4, 6, 8, 10]
delta_rows = [3, 5, 7, 9, 11]

fig.update_yaxes(showline=True, linecolor="black", linewidth=1.3, automargin=False,
                 ticks="outside", ticklen=7, tickwidth=1.2, tickcolor="black",
                 showgrid=False, tickfont=dict(size=19, color="black", family=FONT))
for r in sigma_rows:
    fig.update_yaxes(row=r, col=1, range=[-0.1, 1.1], tickvals=[0, 0.5, 1.0],
                     ticktext=["0.0", "0.5", "1.0"], zeroline=False,
                     minor=dict(tickvals=[0.25, 0.75], ticks="outside", ticklen=4,
                                tickwidth=1.2, tickcolor="black"))
for r in delta_rows:
    fig.update_yaxes(row=r, col=1, range=[-0.5, 0.5], tickvals=[-0.4, 0, 0.4],
                     ticktext=["-0.4", "0.0", "0.4"], zeroline=True,
                     zerolinecolor="#8c8c8c", zerolinewidth=1.2,
                     minor=dict(tickvals=[-0.2, 0.2], ticks="outside", ticklen=4,
                                tickwidth=1.2, tickcolor="black"))

fig.update_xaxes(range=[2200, 3700], showgrid=False, zeroline=False, automargin=False,
                 showline=False, ticks="")
fig.update_xaxes(row=11, col=1, showline=True, linecolor="black", linewidth=1.3,
                 ticks="outside", ticklen=13, tickwidth=1.3, tickcolor="black",
                 tickvals=x_ticks, showticklabels=True,
                 tickfont=dict(size=26, color="black", family=FONT),
                 minor=dict(dtick=50, tick0=2200, ticks="outside", ticklen=7,
                            tickwidth=1.2, tickcolor="black"))

for v in region_lines:
    fig.add_shape(type="line", xref="x", yref="paper", x0=v, x1=v, y0=0, y1=1.003,
                  line=dict(color="#8c8c8c", width=2.5, dash="dot"), layer="above")

# legend (drawn by hand, as in the original figure)
legend_items = [("homochiral", RED, 0.7341), ("heterochiral", BLUE, 0.7145)]
for name, color, yp in legend_items:
    fig.add_shape(type="line", xref="paper", yref="paper", x0=0.192, x1=0.282,
                  y0=yp, y1=yp, line=dict(color=color, width=1.6))
    fig.add_annotation(xref="paper", yref="paper", x=0.293, y=yp, text=name,
                       showarrow=False, xanchor="left", yanchor="middle",
                       font=dict(size=21, family=FONT, color="black"))

big = dict(size=28, family=FONT, color="black")
wide = dict(size=31, family=FONT, color="black")
labels = [
    (1, 2707, 0.87, "C", "center", big),
    (1, 3264, 0.87, "B", "center", big),
    (1, 3673, 0.87, "A", "center", big),
    (1, 2262, 0.47, "AlaH<sup>+</sup>", "left", big),
    (2, 2335, 0.70, "AlaH<sup>+</sup>(1-PhEtOH)<sub><i>n</i></sub>", "left", wide),
    (2, 3275, 0.77, "<i>n</i> = 1", "center", big),
    (4, 3275, 0.64, "<i>n</i> = 2", "center", big),
    (6, 2529, 0.66, "AlaH<sup>+</sup>(MIPA)<sub><i>n</i></sub>", "left", wide),
    (6, 3275, 0.645, "<i>n</i> = 1", "center", big),
    (8, 3275, 0.83, "<i>n</i> = 2", "center", big),
    (10, 3275, 1.01, "<i>n</i> = 3", "center", big),
]
for row, xv, yv, txt, anchor, fnt in labels:
    yname = "y" if row == 1 else "y%d" % row
    fig.add_annotation(xref="x", yref=yname, x=xv, y=yv, text=txt, showarrow=False,
                       xanchor=anchor, yanchor="middle", font=fnt)

for r in range(1, 12):
    dom = "y domain" if r == 1 else "y%d domain" % r
    txt = "σ<sub>IRPD</sub>" if r in sigma_rows else "Δσ<sub>IRPD</sub>"
    fig.add_annotation(xref="paper", yref=dom, x=-0.108, y=0.5, text=txt,
                       textangle=-90, showarrow=False, xanchor="center",
                       yanchor="middle", font=dict(size=27, family=FONT, color="black"))

fig.add_annotation(xref="paper", yref="paper", x=0.5, y=-0.0498,
                   text="wavenumber (cm<sup>-1</sup>)", showarrow=False,
                   xanchor="center", yanchor="middle",
                   font=dict(size=25, family=FONT, color="black"))

fig.update_layout(width=624, height=1479, plot_bgcolor="white", paper_bgcolor="white",
                  margin=dict(l=83, r=3, t=17, b=97), showlegend=False,
                  font=dict(family=FONT, color="black"))

fig.write_html("out.html", config={"displayModeBar": False},
               post_script="document.body.style.margin='0px';")
